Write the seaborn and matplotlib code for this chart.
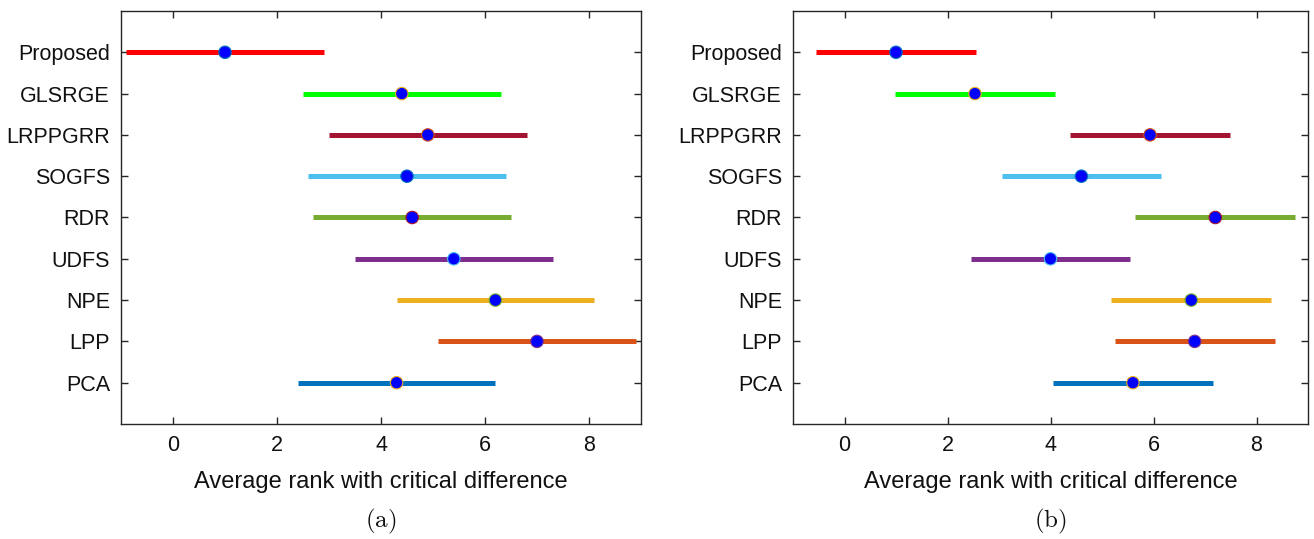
import matplotlib
matplotlib.use("Agg")
import matplotlib.pyplot as plt
import seaborn as sns
import numpy as np
import pandas as pd

# ---- data ----
methods = ["Proposed", "GLSRGE", "LRPPGRR", "SOGFS", "RDR", "UDFS", "NPE", "LPP", "PCA"]
ranks_a = [1.0, 4.4, 4.9, 4.5, 4.6, 5.4, 6.2, 7.0, 4.3]
half_cd_a = 1.90
ranks_b = [1.0, 2.533, 5.933, 4.6, 7.2, 4.0, 6.733, 6.8, 5.6]
half_cd_b = 1.55
x_ticks = [0, 2, 4, 6, 8]
x_label = "Average rank with critical difference"
captions = ["(a)", "(b)"]

# ---- style ----
bar_colors = ["#FF0000", "#00FF00", "#A2142F", "#4DBEEE", "#77AC30",
              "#7E2F8E", "#EDB120", "#D95319", "#0072BD"]
edge_colors = ["#0072BD", "#EDB120", "#D95319", "#0072BD", "#A2142F",
               "#4DBEEE", "#77AC30", "#7E2F8E", "#EDB120"]

sns.set_theme(style="ticks")
plt.rcParams["font.family"] = ["Liberation Sans", "DejaVu Sans"]
plt.rcParams["mathtext.fontset"] = "cm"

W, H = 1314, 539
fig = plt.figure(figsize=(W / 100, H / 100), dpi=100)

axes_px = [(121, 641), (793, 1308)]
top_px, bot_px = 11, 424

for k, (ranks, hcd) in enumerate([(ranks_a, half_cd_a), (ranks_b, half_cd_b)]):
    l, r = axes_px[k]
    ax = fig.add_axes([l / W, 1 - bot_px / H, (r - l) / W, (bot_px - top_px) / H])
    n = len(methods)
    ypos = np.arange(n, 0, -1)
    df = pd.DataFrame({"method": methods, "rank": ranks, "y": ypos})
    for i, row in df.iterrows():
        ax.plot([row["rank"] - hcd, row["rank"] + hcd], [row["y"], row["y"]],
                color=bar_colors[i], lw=3.6, solid_capstyle="butt", zorder=2)
    sns.scatterplot(data=df, x="rank", y="y", ax=ax, color="#0000FF", s=80,
                    edgecolor=edge_colors, linewidth=0.8, zorder=3, legend=False)
    ax.set_xlim(-1, 9)
    ax.set_ylim(0, 10)
    ax.set_xticks(x_ticks)
    ax.set_yticks(ypos)
    ax.set_yticklabels(methods)
    ax.set_xlabel(x_label, fontsize=17, color="#111111", labelpad=11)
    ax.set_ylabel("")
    ax.tick_params(direction="in", length=5, width=1, top=True, right=True,
                   labelsize=15.5, colors="#262626", labelcolor="#111111", pad=8)
    for s in ax.spines.values():
        s.set_visible(True)
        s.set_color("#262626")
        s.set_linewidth(1.0)
    fig.text(((l + r) / 2) / W, 1 - 521 / H, r"$\mathrm{" + captions[k] + "}$",
             ha="center", va="center", fontsize=18, color="#111111")

fig.savefig("out.png", dpi=100)
